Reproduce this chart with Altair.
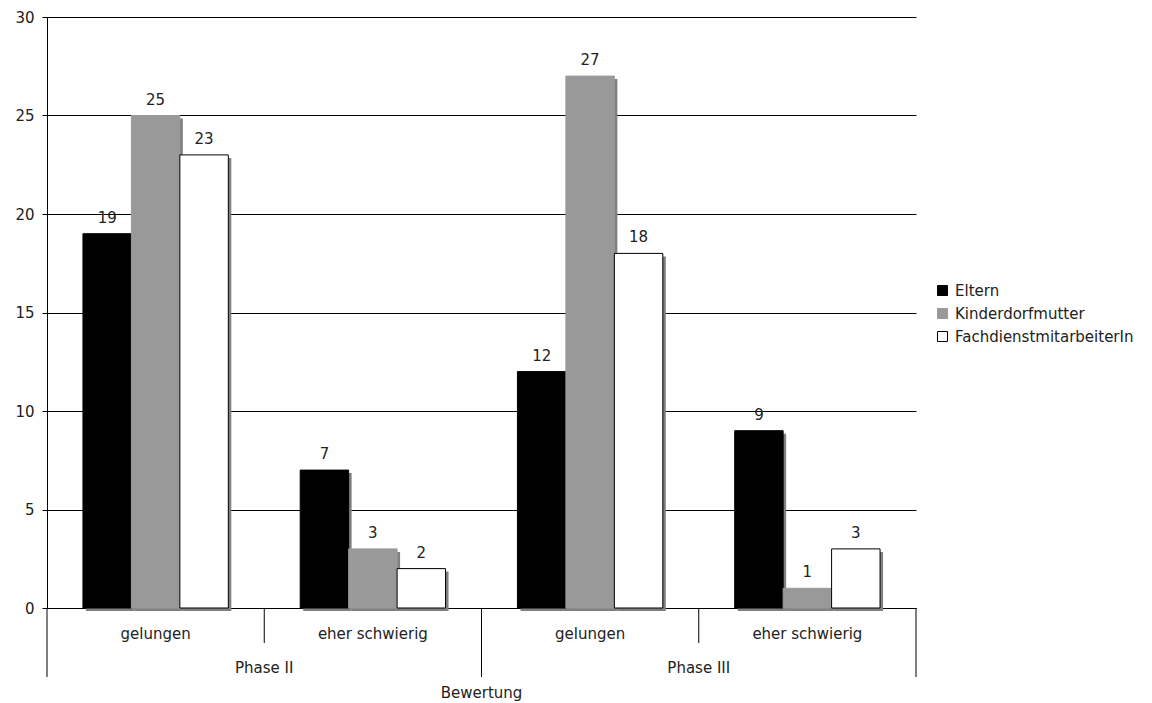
import altair as alt
import pandas as pd

# Kategorien der x-Achse
phasen = ["Phase II", "Phase II", "Phase III", "Phase III"]
bewertungen = ["gelungen", "eher schwierig", "gelungen", "eher schwierig"]

# Befragte Gruppen und ihre Nennungen je Kategorie
gruppen = ["Eltern", "Kinderdorfmutter", "FachdienstmitarbeiterIn"]
eltern = [19, 7, 12, 9]
kinderdorfmutter = [25, 3, 27, 1]
fachdienst = [23, 2, 18, 3]

y_ticks = [0, 5, 10, 15, 20, 25, 30]

fuellung = ["#000000", "#999999", "#ffffff"]
kontur = ["#000000", "#999999", "#000000"]
schatten = "#808080"
schrift = "DejaVu Sans"
textfarbe = "#222222"
fs = 15

W, H = 869, 591
AUSSEN = 0.742  # Außenabstand der Balkengruppe je Kategorie (in Balkenbreiten)

schluessel = [f"{p} / {b}" for p, b in zip(phasen, bewertungen)]

rows = []
for i, k in enumerate(schluessel):
    for g, werte in zip(gruppen, [eltern, kinderdorfmutter, fachdienst]):
        rows.append({"Kategorie": k, "Gruppe": g, "Wert": werte[i]})
df = pd.DataFrame(rows)

kat_df = pd.DataFrame({"Kategorie": schluessel, "Phase": phasen, "Bewertung": bewertungen})

x_scale = alt.Scale(domain=schluessel, paddingInner=0, paddingOuter=0)
x_enc = alt.X(
    "Kategorie:N",
    scale=x_scale,
    sort=schluessel,
    axis=alt.Axis(labels=False, ticks=False, title=None, grid=False,
                  domainColor="black", domainWidth=1),
)
xo_enc = alt.XOffset(
    "Gruppe:N",
    sort=gruppen,
    scale=alt.Scale(domain=gruppen, paddingInner=0, paddingOuter=AUSSEN),
)
# Schattenbalken: gleiche Balkenbreite, um 3 px nach rechts verschoben
schritt = W / 4 / (3 + 2 * AUSSEN)
xo_schatten = alt.XOffset(
    "Gruppe:N",
    sort=gruppen,
    scale=alt.Scale(domain=gruppen, paddingInner=0, paddingOuter=AUSSEN,
                    align=0.5 + 3 / (2 * AUSSEN * schritt)),
)
y_enc = alt.Y(
    "Wert:Q",
    scale=alt.Scale(domain=[0, 30]),
    axis=alt.Axis(
        values=y_ticks, title=None, tickSize=5, labelPadding=8,
        gridColor="black", gridWidth=1, domainColor="black", tickColor="black",
        labelFont=schrift, labelFontSize=fs, labelColor=textfarbe,
    ),
)

legende = alt.Legend(
    title=None, orient="none", legendX=888, legendY=266,
    symbolType="square", symbolSize=100, symbolStrokeWidth=1,
    labelFont=schrift, labelFontSize=fs, labelColor=textfarbe,
    labelOffset=5, rowPadding=7, labelLimit=400,
)

base = alt.Chart(df)

schatten_layer = base.mark_bar(color=schatten, yOffset=3).encode(
    x=x_enc, xOffset=xo_schatten, y=y_enc
)

balken = base.mark_bar(strokeWidth=1).encode(
    x=x_enc,
    xOffset=xo_enc,
    y=y_enc,
    fill=alt.Fill("Gruppe:N", sort=gruppen,
                  scale=alt.Scale(domain=gruppen, range=fuellung), legend=legende),
    stroke=alt.Stroke("Gruppe:N", sort=gruppen,
                      scale=alt.Scale(domain=gruppen, range=kontur), legend=legende),
)

werte_text = base.mark_text(
    font=schrift, fontSize=fs, color=textfarbe, baseline="middle", dy=-16
).encode(x=x_enc, xOffset=xo_enc, y=y_enc, text="Wert:Q")

kat = alt.Chart(kat_df)

bewertung_text = kat.mark_text(
    font=schrift, fontSize=fs, color=textfarbe, baseline="middle"
).encode(x=x_enc, y=alt.value(H + 26), text="Bewertung:N")

phase_text = alt.Chart(kat_df[kat_df["Bewertung"] == "eher schwierig"]).mark_text(
    font=schrift, fontSize=fs, color=textfarbe, baseline="middle"
).encode(
    x=alt.X("Kategorie:N", bandPosition=0, scale=x_scale, sort=schluessel),
    y=alt.value(H + 60),
    text="Phase:N",
)

titel = kat.transform_filter("datum.Kategorie == '%s'" % schluessel[0]).mark_text(
    font=schrift, fontSize=fs, color=textfarbe, baseline="middle"
).encode(x=alt.value(W / 2), y=alt.value(H + 85), text=alt.value("Bewertung"))

kurz = alt.Chart(kat_df[kat_df["Bewertung"] == "eher schwierig"]).mark_rule(
    color="black", strokeWidth=1
).encode(
    x=alt.X("Kategorie:N", bandPosition=0, scale=x_scale, sort=schluessel),
    y=alt.value(H), y2=alt.value(H + 35),
)

lang_links = alt.Chart(kat_df[kat_df["Bewertung"] == "gelungen"]).mark_rule(
    color="black", strokeWidth=1
).encode(
    x=alt.X("Kategorie:N", bandPosition=0, scale=x_scale, sort=schluessel),
    y=alt.value(H), y2=alt.value(H + 69),
)

lang_rechts = alt.Chart(kat_df.tail(1)).mark_rule(
    color="black", strokeWidth=1
).encode(
    x=alt.X("Kategorie:N", bandPosition=1, scale=x_scale, sort=schluessel),
    y=alt.value(H), y2=alt.value(H + 69),
)

vordergrund = alt.layer(
    balken, werte_text, bewertung_text, phase_text, titel,
    kurz, lang_links, lang_rechts,
)

chart = alt.layer(
    schatten_layer, vordergrund,
).resolve_scale(
    xOffset="independent"
).properties(
    width=W,
    height=H,
    autosize=alt.AutoSizeParams(type="none"),
    padding={"left": 47, "top": 17, "right": 236, "bottom": 95},
    background="white",
).configure_view(stroke=None)

chart.save("out.html", embed_options={"renderer": "svg", "actions": False})
